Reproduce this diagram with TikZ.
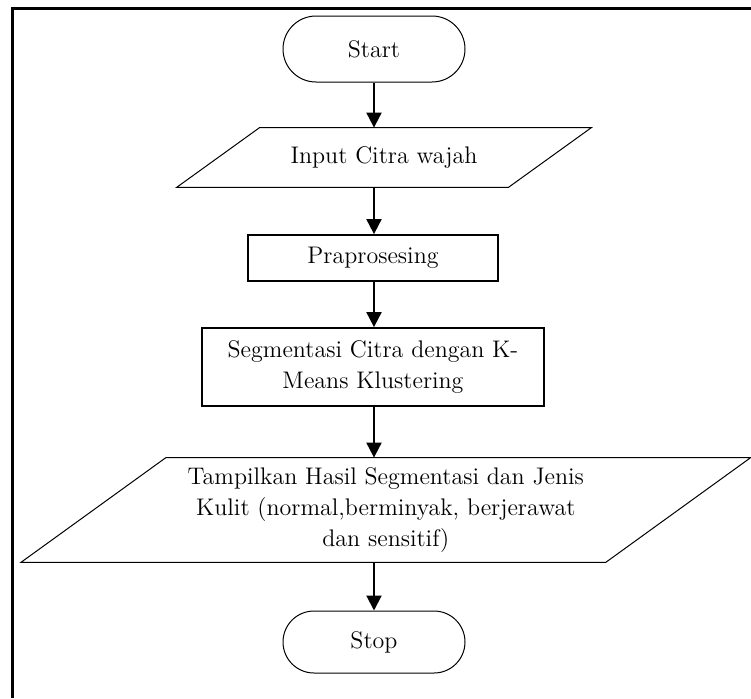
\documentclass[tikz,border=0pt]{standalone}
\usetikzlibrary{arrows.meta, shapes.misc}
\tikzset{terminalnode/.style={rounded rectangle, draw=black, line width=0.5pt, minimum width=95pt, minimum height=33pt, inner sep=2pt},iodatanode/.style={rectangle, draw=none, inner sep=2pt, align=center},ioborder/.style={draw=black, line width=0.5pt, line join=miter}}
\tikzset{processnode/.style={rectangle, draw=black, line width=0.9pt, inner sep=2pt, align=center},flowarrow/.style={-{Triangle[width=7.5pt, length=7.5pt]}, line width=1pt}}

\begin{document}
\begin{tikzpicture}[
        font=\fontsize{12}{15.3}\selectfont,
    ]
        % Frame
        \useasboundingbox (0pt, 0pt) rectangle (375.5pt, -349pt);
        \draw[line width=1.5pt] (375.5pt, -4pt) -- (6.25pt, -4pt) -- (6.25pt, -349pt);
        % Nodes
        \node[terminalnode] (start) at (187pt, -24.5pt) {Start};
        \node[iodatanode, minimum width=165.5pt, minimum height=29.5pt] (input) at (192pt, -78.75pt) {Input Citra wajah};
        \node[processnode, minimum width=125pt, minimum height=23pt] (prepro) at (186.5pt, -129pt) {Praprosesing};
        \node[processnode, minimum width=171pt, minimum height=39pt] (segment) at (186.5pt, -183.5pt) {Segmentasi Citra dengan K-\\Means Klustering};
        \node[iodatanode, minimum width=292pt, minimum height=52pt] (result) at (192.9pt, -255pt) {Tampilkan Hasil Segmentasi dan Jenis\\Kulit (normal,berminyak, berjerawat\\dan sensitif)};
        \node[terminalnode, minimum height=31pt] (stop) at (187pt, -321pt) {Stop};
        % Parallelograms
        \draw[ioborder] ([xshift=20.75pt]input.north west) -- ([xshift=20.75pt]input.north east) -- ([xshift=-20.75pt]input.south east) -- ([xshift=-20.75pt]input.south west) -- cycle;
        \draw[ioborder] ([xshift=36.25pt]result.north west) -- ([xshift=36.25pt]result.north east) -- ([xshift=-36.25pt]result.south east) -- ([xshift=-36.25pt]result.south west) -- cycle;
        % Arrows
        \draw[flowarrow] (start.south) -- (start.south |- input.north);
        \draw[flowarrow] (start.south |- input.south) -- (start.south |- prepro.north);
        \draw[flowarrow] (start.south |- prepro.south) -- (start.south |- segment.north);
        \draw[flowarrow] (start.south |- segment.south) -- (start.south |- result.north);
        \draw[flowarrow] (start.south |- result.south) -- (stop.north);
    \end{tikzpicture}
\end{document}
